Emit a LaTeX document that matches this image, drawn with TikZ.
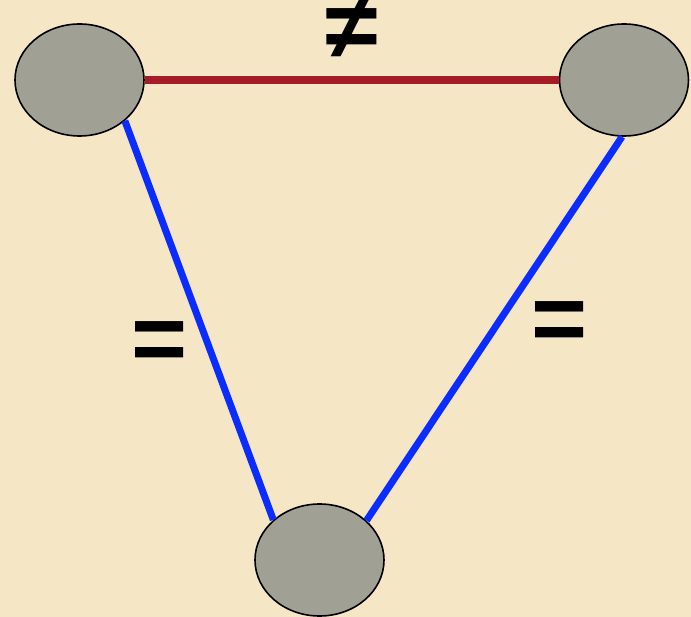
\documentclass[tikz,border=0pt]{standalone}
\usepackage{fontspec}
\usepackage{tikz}
\usetikzlibrary{shapes.geometric}
\newfontfamily\symfont{Liberation Sans}
\definecolor{parch}{HTML}{F5E6C6}
\definecolor{pgray}{HTML}{A0A194}
\definecolor{pred}{HTML}{A51C26}
\definecolor{pblue}{HTML}{0A2CFF}

\begin{document}
\begin{tikzpicture}[
  x=1pt,y=-1pt,
  blob/.style={ellipse,draw=black,line width=1.6pt,fill=pgray,minimum width=129pt,minimum height=112pt,inner sep=0pt},
  diff/.style={line width=7.5pt,pred},
  same/.style={line width=7pt,pblue},
  rel/.style={font=\symfont\bfseries\fontsize{96}{96}\selectfont,inner sep=0pt,anchor=base}]

% ---------- background ----------
\fill[parch] (0,0) rectangle (691,617);
\useasboundingbox (0,0) rectangle (691,617);

% ---------- the three ellipses ----------
\node[blob] (tl) at (79.5,80) {};
\node[blob] (tr) at (624,80) {};
\node[blob] (bot) at (319.5,560) {};

% ---------- relations ----------
\draw[diff] (tl.east) -- (tr.west);
\draw[same] (tl.-42) -- (bot.139);
\draw[same] (tr.-92) -- (bot.40);

\node[rel,text height=0.56em,text depth=0pt] (ne) at (352,59) {≠};
\node[rel] (eqa) at (160,372) {=};
\node[rel] (eqb) at (560,352) {=};
\end{tikzpicture}
\end{document}
